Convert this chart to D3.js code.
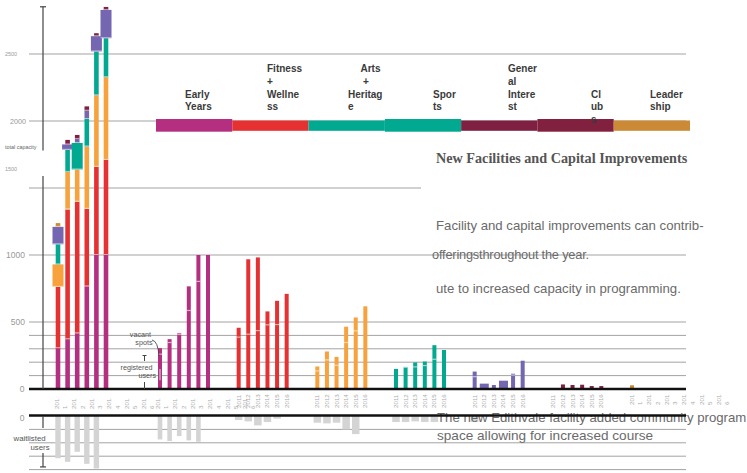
<!DOCTYPE html>
<html>
<head>
<meta charset="utf-8">
<script src="https://cdn.jsdelivr.net/npm/d3@7"></script>
<style>
body { margin: 0; background: #fff; }
svg { display: block; font-family: "Liberation Sans", Arial, sans-serif; }
</style>
</head>
<body>
<svg id="chart" width="747" height="473"></svg>
<script>
// ---- data ----
const years = ['2011', '2012', '2013', '2014', '2015', '2016'];
const categories = ['Early Years', 'Fitness + Wellness', 'Arts + Heritage', 'Sports',
    'General Interest', 'Clubs', 'Leadership'];
const legendLines = [
    ['Early', 'Years'],
    ['Fitness', '+', 'Wellne', 'ss'],
    ['Arts', '+', 'Heritag', 'e'],
    ['Spor', 'ts'],
    ['Gener', 'al', 'Intere', 'st'],
    ['Cl', 'ub', 's'],
    ['Leader', 'ship']
];

// total capacity per category and year
const capacityEarlyYears = [305, 372, 416, 766, 1000, 1000];
const capacityFitness    = [457, 968, 982, 579, 658, 710];
const capacityArts       = [168, 280, 240, 465, 534, 617];
const capacitySports     = [150, 165, 198, 205, 327, 291];
const capacityGeneral    = [130, 40, 30, 62, 114, 211];
const capacityClubs      = [0, 34, 30, 32, 22, 22];
const capacityLeadership = [28, 0, 0, 0, 0, 0];

// registered users (rest of the bar = vacant spots)
const registeredEarlyYears = [260, 347, 407, 586, 803, 1000];
const registeredFitness    = [387, 409, 436, 479, 481, 710];
const registeredArts       = [135, 217, 177, 347, 434, 617];
const registeredSports     = [150, 162, 165, 175, 222, 291];
const registeredGeneral    = [92, 40, 30, 62, 104, 211];
const registeredClubs      = [0, 34, 30, 32, 22, 22];
const registeredLeadership = [28, 0, 0, 0, 0, 0];

// waitlisted users
const waitlistTotal      = [315, 342, 267, 357, 392, 0];
const waitlistEarlyYears = [175, 187, 150, 182, 192, 0];
const waitlistFitness    = [30, 40, 70, 45, 20, 0];
const waitlistArts       = [50, 55, 50, 100, 135, 0];
const waitlistSports     = [45, 45, 40, 45, 45, 0];
const waitlistGeneral    = [45, 0, 0, 0, 0, 0];
const waitlistClubs      = [0, 0, 0, 0, 0, 0];
const waitlistLeadership = [0, 0, 0, 0, 0, 0];

const capacity = [capacityEarlyYears, capacityFitness, capacityArts, capacitySports,
    capacityGeneral, capacityClubs, capacityLeadership];
const registered = [registeredEarlyYears, registeredFitness, registeredArts, registeredSports,
    registeredGeneral, registeredClubs, registeredLeadership];
const waitlist = [waitlistEarlyYears, waitlistFitness, waitlistArts, waitlistSports,
    waitlistGeneral, waitlistClubs, waitlistLeadership];

// ---- styles ----
const barColors = ['#b52f80', '#e53132', '#f7a23c', '#00a98f', '#7466b0', '#7f1f42', '#cd8a36'];
const legendColors = ['#b52f80', '#e53132', '#00a98f', '#00a98f', '#7f1f42', '#82203f', '#cd8a36'];
// segments drawn wider than the rest, as in the original
const wideStack = { '2011': [2, 4], '2012': [4], '2013': [3], '2015': [4], '2016': [4] };
const wideSingle = { '4': ['2012', '2014'] };
const fullLabelGroups = [1, 2, 3, 4, 5];

const svg = d3.select('#chart');

const y = d3.scaleLinear().domain([0, 2500]).range([389, 54]);
const yWait = d3.scaleLinear().domain([0, 400]).range([416, 469.6]);
const groupX = d3.scalePoint().domain(d3.range(categories.length)).range([160, 632]);
const yearX = d3.scalePoint().domain(years).range([0, 48]);
const totalX0 = 58;
const labelStep = d3.scalePoint().domain(years).range([0, 87]);
const legendX = d3.scaleBand().domain(d3.range(categories.length)).range([156, 690]);

const gridRight = 686;
const gridLeft = 29;

/*
 * Grid lines.
 */
const grid = svg.append('g').attr('class', 'grid');
[100, 200, 300, 400, 500, 1000, 1500, 2000, 2500].forEach(function(v) {
    grid.append('line')
        .attr('x1', gridLeft).attr('x2', v === 1500 ? 421 : gridRight)
        .attr('y1', y(v)).attr('y2', y(v))
        .attr('stroke', '#a3a3a3').attr('stroke-width', 1);
});
[100, 200, 300, 400].forEach(function(v) {
    grid.append('line')
        .attr('x1', gridLeft).attr('x2', gridRight)
        .attr('y1', yWait(v)).attr('y2', yWait(v))
        .attr('stroke', '#a3a3a3').attr('stroke-width', 1);
});

/*
 * Legend bar.
 */
const legend = svg.append('g').attr('class', 'legend');
categories.forEach(function(c, i) {
    const thick = i === 0 || i === 3 || i === 5;
    legend.append('rect')
        .attr('x', legendX(i)).attr('width', legendX.bandwidth())
        .attr('y', thick ? 119 : 120.5).attr('height', thick ? 12.7 : 10.3)
        .attr('fill', legendColors[i]);
});
const legendLabelX = [185, 267, 348, 433, 508, 591, 650];
const legendIndent = { '2': [12.5, 15] };
legendLines.forEach(function(lines, i) {
    const first = lines.length === 4 ? 2 : 0;
    const t = legend.append('text')
        .attr('font-size', 10).attr('font-weight', 'bold').attr('fill', '#3a3a3a');
    lines.forEach(function(line, k) {
        const indent = (legendIndent[i] && legendIndent[i][k]) || 0;
        t.append('tspan')
            .attr('x', legendLabelX[i] + indent)
            .attr('y', 97.5 + (k - first) * 12.6)
            .text(line);
    });
});

/*
 * Total capacity stacked bars.
 */
const stackG = svg.append('g').attr('class', 'stack');
years.forEach(function(yr, j) {
    let base = 0;
    const cx = totalX0 + yearX(yr);
    capacity.forEach(function(series, i) {
        const v = series[j];
        if (!v) return;
        const w = (wideStack[yr] || []).indexOf(i) >= 0 ? 11 : 4.6;
        stackG.append('rect')
            .attr('x', cx - w / 2).attr('width', w)
            .attr('y', y(base + v)).attr('height', y(base) - y(base + v))
            .attr('fill', barColors[i]);
        if (base > 0) {
            stackG.append('line')
                .attr('x1', cx - w / 2).attr('x2', cx + w / 2)
                .attr('y1', y(base) - 0.5).attr('y2', y(base) - 0.5)
                .attr('stroke', '#fff').attr('stroke-opacity', 0.55);
        }
        base += v;
    });
});

/*
 * Category bars.
 */
const barsG = svg.append('g').attr('class', 'bars');
capacity.forEach(function(series, i) {
    years.forEach(function(yr, j) {
        const v = series[j];
        if (!v) return;
        const cx = groupX(i) + yearX(yr);
        const w = (wideSingle[i] || []).indexOf(yr) >= 0 ? 9 : 4;
        barsG.append('rect')
            .attr('x', cx - w / 2).attr('width', w)
            .attr('y', y(v)).attr('height', y(0) - y(v))
            .attr('fill', barColors[i]);
        const r = registered[i][j];
        if (r < v) {
            barsG.append('line')
                .attr('x1', cx - w / 2).attr('x2', cx + w / 2)
                .attr('y1', y(r)).attr('y2', y(r))
                .attr('stroke', '#fff').attr('stroke-opacity', 0.6).attr('stroke-width', 1.2);
        }
    });
});

/*
 * Waitlist bars (down from second baseline).
 */
const waitG = svg.append('g').attr('class', 'waitlist');
years.forEach(function(yr, j) {
    const v = waitlistTotal[j];
    if (!v) return;
    waitG.append('rect')
        .attr('x', totalX0 + yearX(yr) - 2.7).attr('width', 5.4)
        .attr('y', yWait(0)).attr('height', yWait(v) - yWait(0))
        .attr('fill', '#d4d4d4');
});
waitlist.forEach(function(series, i) {
    years.forEach(function(yr, j) {
        const v = series[j];
        if (!v) return;
        const w = i === 0 ? 4.6 : 7.5;
        waitG.append('rect')
            .attr('x', groupX(i) + yearX(yr) - w / 2).attr('width', w)
            .attr('y', yWait(0)).attr('height', yWait(v) - yWait(0))
            .attr('fill', '#d4d4d4');
    });
});

/*
 * Year labels.
 */
const labelsG = svg.append('g').attr('class', 'year-labels')
    .attr('font-size', 6.2).attr('fill', '#acacac');
function wrappedLabels(x0, yBase) {
    years.forEach(function(yr) {
        const x = x0 + labelStep(yr);
        labelsG.append('text')
            .attr('transform', 'translate(' + [x + 2, yBase] + ') rotate(-90)')
            .text(yr.slice(0, 3));
        labelsG.append('text')
            .attr('transform', 'translate(' + [x + 10.4, yBase] + ') rotate(-90)')
            .text(yr.slice(3));
    });
}
wrappedLabels(57, 409);
wrappedLabels(158, 409);
wrappedLabels(632, 405);
fullLabelGroups.forEach(function(i) {
    years.forEach(function(yr) {
        labelsG.append('text')
            .attr('transform', 'translate(' + [groupX(i) + yearX(yr) + 2, 408] + ') rotate(-90)')
            .text(yr);
    });
});

/*
 * Right hand text.
 */
const notes = svg.append('g').attr('class', 'notes');
notes.append('text')
    .attr('x', 436).attr('y', 163)
    .attr('font-family', '"Liberation Serif", "Times New Roman", serif')
    .attr('font-weight', 'bold').attr('font-size', 14.2).attr('fill', '#555')
    .text('New Facilities and Capital Improvements');
notes.append('text')
    .attr('x', 436).attr('y', 230).attr('font-size', 13.2).attr('fill', '#6a6a6a')
    .text('Facility and capital improvements can contrib-');
notes.append('text')
    .attr('x', 432).attr('y', 259).attr('font-size', 12.8).attr('fill', '#6a6a6a')
    .attr('letter-spacing', -0.2)
    .text('offeringsthroughout the year.');
notes.append('text')
    .attr('x', 436).attr('y', 292.5).attr('font-size', 13.2).attr('fill', '#6a6a6a')
    .text('ute to increased capacity in programming.');
notes.append('text')
    .attr('x', 437).attr('y', 421.5).attr('font-size', 13.2).attr('fill', '#6a6a6a')
    .text('The new Edithvale facility added community program');
notes.append('text')
    .attr('x', 437).attr('y', 439.5).attr('font-size', 13.6).attr('fill', '#6a6a6a')
    .text('space allowing for increased course');

/*
 * Baselines.
 */
svg.append('line')
    .attr('x1', gridLeft).attr('x2', gridRight)
    .attr('y1', y(0)).attr('y2', y(0))
    .attr('stroke', '#111').attr('stroke-width', 2.6);
svg.append('line')
    .attr('x1', gridLeft).attr('x2', gridRight)
    .attr('y1', yWait(0) - 0.5).attr('y2', yWait(0) - 0.5)
    .attr('stroke', '#111').attr('stroke-width', 2.6);

/*
 * Left axis.
 */
const axis = svg.append('g').attr('class', 'axis')
    .attr('stroke', '#444').attr('stroke-width', 1.2);
[[y(2830) - 3, y(1780)], [y(1590), y(0)], [yWait(0), yWait(90)], [yWait(277), yWait(380)]]
    .forEach(function(s) {
        axis.append('line').attr('x1', 43).attr('x2', 43).attr('y1', s[0]).attr('y2', s[1]);
    });
axis.append('line').attr('x1', 40).attr('x2', 46).attr('y1', y(2830) - 3).attr('y2', y(2830) - 3);
axis.append('line').attr('x1', 40).attr('x2', 46).attr('y1', yWait(380)).attr('y2', yWait(380));

const axisText = svg.append('g').attr('fill', '#999');
axisText.append('text').attr('x', 5).attr('y', y(2500) + 2).attr('font-size', 5.4).text('2500');
axisText.append('text').attr('x', 26).attr('y', y(2000) + 2.5).attr('font-size', 7.2)
    .attr('text-anchor', 'end').text('2000');
axisText.append('text').attr('x', 5).attr('y', y(1640) + 2).attr('font-size', 5.4).text('1500');
axisText.append('text').attr('x', 25).attr('y', y(1000) + 3).attr('font-size', 8.5)
    .attr('text-anchor', 'end').text('1000');
axisText.append('text').attr('x', 25).attr('y', y(500) + 3).attr('font-size', 8.5)
    .attr('text-anchor', 'end').text('500');
axisText.append('text').attr('x', 24.5).attr('y', y(0) + 3).attr('font-size', 8.5)
    .attr('text-anchor', 'end').text('0');
axisText.append('text').attr('x', 24.5).attr('y', yWait(0) + 4.5).attr('font-size', 8.5)
    .attr('text-anchor', 'end').text('0');
svg.append('text').attr('x', 5).attr('y', 149).attr('font-size', 5.4).attr('fill', '#666')
    .text('total capacity');
svg.append('text').attr('x', 13.5).attr('y', 441).attr('font-size', 7.8).attr('fill', '#555')
    .text('waitlisted');
svg.append('text').attr('x', 30.5).attr('y', 449.5).attr('font-size', 7.8).attr('fill', '#555')
    .text('users');

/*
 * Vacant / registered annotation next to first Early Years bar.
 */
const ann = svg.append('g').attr('class', 'annotation').attr('fill', '#555').attr('font-size', 7.2);
const annX = groupX(0) + yearX(years[0]);
ann.append('text').attr('x', 151).attr('y', 336.5).attr('text-anchor', 'end').text('vacant');
ann.append('text').attr('x', 152.5).attr('y', 345).attr('text-anchor', 'end').text('spots');
ann.append('text').attr('x', 152.5).attr('y', 369.5).attr('text-anchor', 'end').text('registered');
ann.append('text').attr('x', 156).attr('y', 377.5).attr('text-anchor', 'end').text('users');
ann.append('path')
    .attr('d', 'M152,340 Q158,341 ' + (annX - 1) + ',' + (y(registeredEarlyYears[0]) + 2))
    .attr('fill', 'none').attr('stroke', '#444').attr('stroke-width', 0.9);
const brk = ann.append('g').attr('stroke', '#444').attr('stroke-width', 1);
brk.append('line').attr('x1', 142.5).attr('x2', 146.5).attr('y1', 355.5).attr('y2', 355.5);
brk.append('line').attr('x1', 144.5).attr('x2', 144.5).attr('y1', 355.5).attr('y2', 361);
brk.append('line').attr('x1', 144.5).attr('x2', 144.5).attr('y1', 382).attr('y2', y(0));
svg.append('line')
    .attr('x1', annX).attr('x2', annX)
    .attr('y1', y(150)).attr('y2', y(65))
    .attr('stroke', '#bbb').attr('stroke-width', 1.4);
</script>
</body>
</html>
